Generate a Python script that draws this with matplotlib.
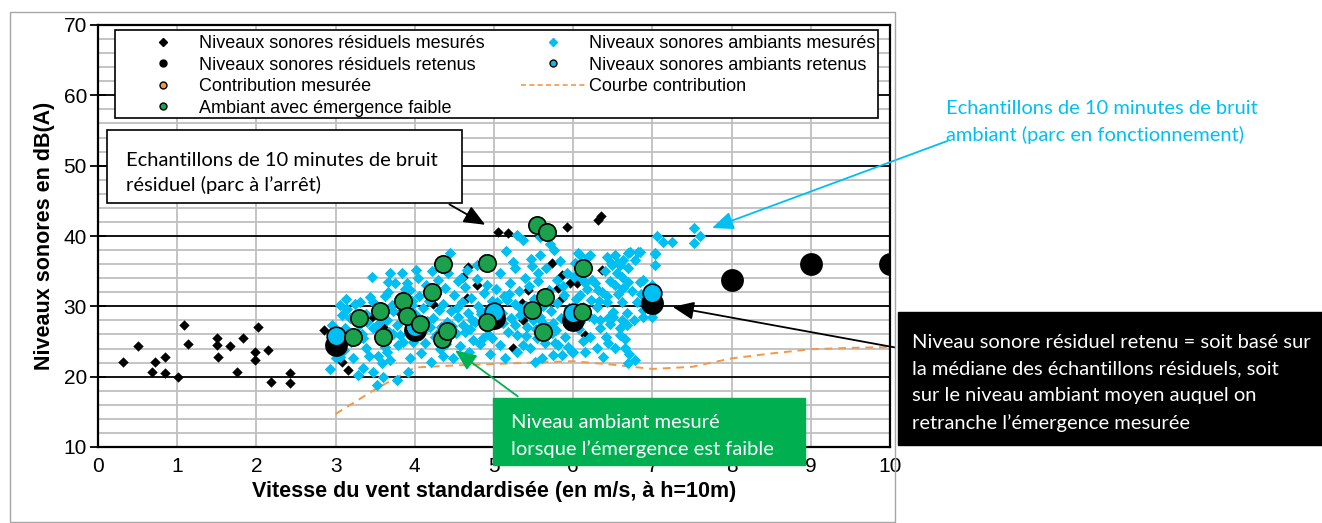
import matplotlib.pyplot as plt
from matplotlib.lines import Line2D
from matplotlib.patches import Rectangle

plt.rcParams['font.family'] = ['Liberation Sans', 'DejaVu Sans']

# niveaux residuels mesures (parc a l'arret)
res_x = [0.32, 0.51, 0.68, 0.72, 0.85, 0.85, 1.01, 1.08, 1.14, 1.50, 1.50, 1.52, 1.67, 1.75,
         1.83, 1.98, 1.98, 2.02, 2.15, 2.19, 2.42, 2.42, 2.85,
         3.08, 3.16, 3.46, 3.60, 3.81, 4.00, 4.23, 4.61, 4.66, 4.67, 4.78, 5.00, 5.05, 5.18,
         5.24, 5.35, 5.37, 5.43, 5.73, 5.81, 5.86, 5.86, 5.92, 5.96, 6.00, 6.05, 6.15, 6.31,
         6.35, 6.36, 6.98, 7.03]
res_y = [22.1, 24.3, 20.7, 22.1, 22.8, 20.5, 20.0, 27.3, 24.7, 25.5, 24.5, 22.8, 24.3, 20.7,
         25.5, 23.5, 22.4, 27.1, 23.8, 19.3, 20.5, 19.1, 26.6,
         22.1, 21.0, 28.5, 27.0, 29.0, 26.0, 30.4, 34.1, 31.2, 35.6, 33.1, 28.8, 40.6, 40.4,
         24.1, 30.5, 28.0, 32.3, 36.2, 32.6, 34.5, 31.2, 41.3, 33.3, 28.4, 33.3, 25.9, 42.3,
         42.8, 35.2, 30.2, 29.5]

# niveaux ambiants mesures (parc en fonctionnement)
amb_x = [2.93, 2.95, 2.97, 3.00, 3.03, 3.06, 3.06, 3.08, 3.10, 3.12, 3.13, 3.15,
         3.18, 3.20, 3.22, 3.25, 3.28, 3.30, 3.31, 3.33, 3.35, 3.35, 3.38, 3.39, 3.42, 3.44,
         3.46, 3.47, 3.47, 3.47, 3.50,
         3.52, 3.54, 3.55, 3.58, 3.60, 3.62, 3.63, 3.65, 3.65, 3.66, 3.66, 3.68, 3.69, 3.69,
         3.71, 3.73, 3.75, 3.77, 3.77, 3.79, 3.80,
         3.81, 3.84, 3.85, 3.87, 3.88, 3.90, 3.91, 3.92, 3.94, 3.94, 3.96, 3.98, 4.00, 4.02,
         4.04, 4.05, 4.07, 4.08, 4.10,
         4.13, 4.14, 4.16, 4.18, 4.19, 4.20, 4.22, 4.23, 4.25, 4.27, 4.29, 4.30, 4.32, 4.33,
         4.36, 4.38, 4.40, 4.41, 4.42, 4.44,
         4.46, 4.48, 4.50, 4.52, 4.54, 4.55, 4.57, 4.59, 4.61, 4.63, 4.64, 4.66, 4.67, 4.69,
         4.71, 4.72, 4.74,
         4.76, 4.78, 4.79, 4.80, 4.82, 4.84, 4.86, 4.87, 4.89, 4.91, 4.93, 4.95, 4.97, 4.98,
         5.00, 5.02,
         5.08, 5.08, 5.10, 5.12, 5.14, 5.16, 5.18, 5.20, 5.22, 5.24, 5.26, 5.27, 5.27, 5.29,
         5.29, 5.29, 5.31, 5.33,
         5.37, 5.37, 5.39, 5.40, 5.42, 5.44, 5.45, 5.47, 5.49, 5.50, 5.52, 5.54, 5.55, 5.56,
         5.58, 5.58, 5.58, 5.61, 5.62, 5.64,
         5.66, 5.68, 5.70, 5.72, 5.73, 5.74, 5.74, 5.76, 5.77, 5.79, 5.80, 5.81, 5.83, 5.85,
         5.86, 5.88, 5.90, 5.92, 5.93, 5.95,
         5.98, 6.00, 6.02, 6.04, 6.06, 6.07, 6.09, 6.09, 6.09, 6.11, 6.13, 6.15, 6.15, 6.17,
         6.19, 6.20, 6.21, 6.21, 6.23,
         6.28, 6.30, 6.30, 6.31, 6.34, 6.34, 6.36, 6.38, 6.40, 6.43, 6.43, 6.43, 6.44, 6.44,
         6.48, 6.49, 6.50, 6.50, 6.53, 6.53, 6.53, 6.55,
         6.57, 6.59, 6.59, 6.59, 6.62, 6.62, 6.63, 6.63, 6.65, 6.68, 6.68, 6.69, 6.69, 6.69,
         6.69, 6.72, 6.78, 6.78, 6.80, 6.82, 6.84, 6.84,
         6.88, 6.88, 6.88, 6.95, 7.00, 7.00, 7.03, 7.03, 7.03, 7.06, 7.05,
         7.14, 7.25, 7.52, 7.52, 7.60,
         3.10, 3.40, 3.57, 3.72, 3.97, 4.12, 4.28, 4.47, 4.53, 4.70, 4.83, 4.92, 5.04, 5.11,
         5.19, 5.34, 5.41, 5.46, 5.53, 5.60, 5.69, 5.78, 5.87, 5.94, 6.03, 6.12, 6.18, 6.26,
         6.33, 6.41, 6.47, 6.56, 6.61, 6.66, 6.74, 6.77, 6.86, 6.92, 4.35, 4.58, 4.88, 5.15,
         5.48, 5.71, 6.01, 6.24, 6.46, 6.71]
amb_y = [21.1, 27.3, 26.2, 22.6, 24.1, 22.8, 30.2, 28.8, 25.0, 26.9, 31.0, 29.6,
         28.3, 24.9, 22.6, 30.4, 20.2, 27.4, 30.6, 26.1, 21.2, 25.5, 28.9, 24.1, 23.0, 31.3,
         34.2, 20.7, 26.9, 30.6, 29.1,
         18.8, 22.9, 27.6, 21.9, 19.9, 24.2, 31.5, 23.5, 28.0, 32.0, 33.5, 26.4, 22.4, 34.7,
         30.2, 29.3, 33.3, 19.5, 27.3, 24.5, 31.2,
         25.9, 34.7, 24.9, 29.4, 32.5, 33.3, 20.6, 27.8, 22.6, 32.3, 30.2, 24.9, 28.9, 35.2,
         34.0, 31.4, 25.9, 23.4, 29.8,
         24.8, 33.1, 27.9, 30.7, 27.1, 22.1, 35.0, 28.3, 25.6, 31.8, 33.7, 29.5, 23.9, 27.0,
         30.4, 32.6, 24.6, 27.8, 34.7, 37.6,
         29.4, 22.6, 31.6, 26.2, 33.6, 28.5, 24.3, 30.6, 27.4, 26.4, 32.8, 35.1, 29.0, 23.5,
         31.2, 28.0, 25.2,
         27.8, 33.9, 35.9, 30.1, 24.6, 28.9, 25.5, 31.9, 27.2, 33.0, 29.6, 23.2, 25.5, 30.8,
         27.9, 32.4,
         24.5, 34.7, 29.0, 31.5, 22.6, 30.9, 26.4, 33.3, 28.3, 36.3, 30.3, 27.3, 35.4, 23.5,
         25.9, 40.1, 32.2, 28.8,
         24.5, 39.4, 34.0, 30.0, 27.1, 32.9, 24.1, 36.8, 28.0, 31.0, 22.1, 25.5, 33.6, 34.7,
         28.5, 37.3, 39.8, 22.6, 30.1, 24.8,
         35.5, 27.0, 32.3, 29.3, 26.2, 23.1, 27.6, 38.0, 24.8, 33.8, 30.5, 24.5, 36.4, 28.4,
         23.1, 31.6, 25.6, 34.8, 27.3, 29.7,
         23.5, 23.5, 36.1, 31.0, 37.6, 26.8, 27.8, 31.6, 37.3, 33.9, 29.9, 23.5, 33.3, 35.6,
         37.0, 28.6, 25.6, 37.3, 30.9,
         33.3, 24.1, 29.9, 32.3, 26.9, 28.0, 32.0, 22.8, 35.0, 30.6, 31.4, 37.0, 24.8, 28.3,
         36.2, 35.9, 28.5, 29.2, 24.1, 33.0, 37.3, 34.7,
         36.2, 25.9, 26.9, 35.9, 30.6, 34.2, 32.6, 36.6, 24.1, 27.3, 29.0, 21.9, 33.5, 35.4,
         37.6, 37.7, 22.4, 36.6, 30.6, 37.7, 33.5, 37.7,
         28.5, 29.5, 33.7, 31.2, 28.5, 33.0, 35.9, 37.5, 37.6, 40.0, 29.6,
         39.2, 39.2, 41.1, 39.0, 40.0,
         23.8, 27.8, 25.0, 26.0, 30.8, 26.6, 26.1, 27.2, 29.8, 26.8, 29.3, 26.0, 30.6, 27.6,
         31.8, 29.6, 25.8, 29.0, 26.8, 27.8, 30.8, 26.6, 32.9, 24.2, 28.6, 25.0, 32.4, 28.2,
         30.7, 25.6, 27.5, 31.8, 28.1, 25.3, 32.2, 28.0, 31.8, 30.3, 23.0, 34.0, 36.8, 37.8,
         35.8, 38.8, 34.2, 33.8, 33.6, 23.2]

# ambiant avec emergence faible
faible_x = [3.22, 3.30, 3.56, 3.60, 3.85, 3.90, 4.07, 4.22, 4.34, 4.36, 4.41, 4.91, 4.91,
            5.48, 5.54, 5.62, 5.64, 5.67, 6.11, 6.12]
faible_y = [25.6, 28.3, 29.3, 25.6, 30.8, 28.6, 27.5, 32.0, 25.4, 36.0, 26.5, 36.2, 27.8,
            29.5, 41.6, 26.3, 31.3, 40.6, 29.2, 35.4]

# niveaux retenus par classe de vitesse
ret_res_x = [3, 4, 5, 6, 7, 8, 9, 10]
ret_res_y = [24.5, 26.6, 28.4, 28.0, 30.5, 33.8, 36.0, 36.0]
ret_amb_x = [3, 4, 5, 6, 7]
ret_amb_y = [25.8, 27.1, 29.2, 29.0, 31.9]

# courbe de contribution
contrib_x = [3, 3.5, 4, 4.5, 5, 5.5, 6, 6.5, 7, 7.5, 8, 8.5, 9, 9.5, 10]
contrib_y = [14.7, 18.2, 21.3, 21.6, 21.8, 22.0, 22.2, 21.7, 21.1, 21.4, 22.6, 23.3, 23.9, 24.1, 24.2]

CYAN = '#00BFF3'
GREEN = '#1BA04B'
ORANGE = '#F79646'
BOXGREEN = '#00B050'

W, H = 1322, 523
fig = plt.figure(figsize=(W / 100, H / 100), dpi=100)
ax = fig.add_axes([98 / W, 1 - 447 / H, (890 - 98) / W, (447 - 25) / H])


def px(x, y):
    return (x / W, 1 - y / H)


# grille
for v in range(12, 70, 2):
    if v % 10:
        ax.axhline(v, color='#BFBFBF', lw=1.3, zorder=0)
for v in range(20, 70, 10):
    ax.axhline(v, color='black', lw=1.3, zorder=0.5)
for v in range(1, 10):
    ax.axvline(v, color='#BFBFBF', lw=1.3, zorder=0.2)

ax.plot(contrib_x, contrib_y, ls=(0, (4, 3)), color=ORANGE, lw=1.4, zorder=2)
ax.scatter(res_x, res_y, marker='D', s=28, color='black', lw=0, zorder=3)
ax.scatter(amb_x, amb_y, marker='D', s=34, color=CYAN, lw=0, zorder=3)
ax.scatter(ret_res_x, ret_res_y, marker='o', s=270, color='black', lw=0, zorder=4)
ax.scatter(ret_amb_x, ret_amb_y, marker='o', s=180, color=CYAN, edgecolor='black', lw=1.2, zorder=5)
ax.scatter(faible_x, faible_y, marker='o', s=155, color=GREEN, edgecolor='black', lw=1.2, zorder=6)

ax.set_xlim(0, 10)
ax.set_ylim(10, 70)
ax.set_xticks(range(0, 11))
ax.set_yticks(range(10, 80, 10))
ax.tick_params(axis='y', direction='inout', length=12, width=1.3, labelsize=15, pad=2)
ax.tick_params(axis='x', length=0, labelsize=15, pad=7)
for s in ax.spines.values():
    s.set_linewidth(1.6)
ax.set_xlabel('Vitesse du vent standardisée (en m/s, à h=10m)', fontsize=15.5,
              fontweight='bold', labelpad=4)
ax.set_ylabel('Niveaux sonores en dB(A)', fontsize=15.5, fontweight='bold', labelpad=6)

# legende : cadre dessine a part, entrees sans cadre
ax.add_patch(Rectangle(px(115, 118), 763 / W, 88 / H, transform=fig.transFigure,
                       facecolor='white', edgecolor='black', lw=1.2, zorder=9))
handles = [
    Line2D([], [], ls='', marker='D', ms=4, color='black'),
    Line2D([], [], ls='', marker='o', ms=5, color='black'),
    Line2D([], [], ls='', marker='o', ms=5, color=ORANGE, mec='black'),
    Line2D([], [], ls='', marker='o', ms=5, color=GREEN, mec='black'),
    Line2D([], [], ls='', marker='D', ms=4, color=CYAN),
    Line2D([], [], ls='', marker='o', ms=5, color=CYAN, mec='black'),
    Line2D([], [], ls=(0, (3, 2)), lw=1.2, color=ORANGE),
]
labels = ['Niveaux sonores résiduels mesurés', 'Niveaux sonores résiduels retenus',
          'Contribution mesurée', 'Ambiant avec émergence faible',
          'Niveaux sonores ambiants mesurés', 'Niveaux sonores ambiants retenus',
          'Courbe contribution']
leg = ax.legend(handles, labels, ncol=2, loc='upper left', bbox_to_anchor=px(131, 35),
                bbox_transform=fig.transFigure, fontsize=13, frameon=False,
                borderpad=0, labelspacing=0.25, handlelength=3.55, columnspacing=2.05,
                handletextpad=0.2, borderaxespad=0)
leg.set_zorder(10)

# cadre exterieur
fig.patches.append(Rectangle(px(10, 522), 885 / W, 510 / H, transform=fig.transFigure,
                             fill=False, edgecolor='#A6A6A6', lw=1))

afont = ['Lato', 'DejaVu Sans']
FS = 14.5

# boite residuel
fig.patches.append(Rectangle(px(107, 203), 355 / W, 73 / H, transform=fig.transFigure,
                             facecolor='white', edgecolor='black', lw=1.2, zorder=3))
fig.text(*px(126, 173), 'Echantillons de 10 minutes de bruit\nrésiduel (parc à l’arrêt)',
         family=afont, fontsize=FS, va='center', ha='left', linespacing=1.5, zorder=4)
arrow = '-|>,head_length=1.3,head_width=0.55'
ax.annotate('', xy=(4.92, 41.4), xytext=px(447, 203), textcoords='figure fraction',
            arrowprops=dict(arrowstyle=arrow, color='black', lw=1.3), zorder=12)

# texte ambiant
fig.text(*px(946, 122), 'Echantillons de 10 minutes de bruit\nambiant (parc en fonctionnement)',
         family=afont, fontsize=FS, color=CYAN, va='center', ha='left', linespacing=1.62)
ax.annotate('', xy=(7.72, 41.0), xytext=px(950, 140), textcoords='figure fraction',
            arrowprops=dict(arrowstyle=arrow, color=CYAN, lw=1.3), zorder=12)

# boite residuel retenu
fig.patches.append(Rectangle(px(898, 445), 424 / W, 133 / H, transform=fig.transFigure,
                             facecolor='black', edgecolor='black', lw=1, zorder=3))
fig.text(*px(912, 383), 'Niveau sonore résiduel retenu = soit basé sur\nla médiane des échantillons '
         'résiduels, soit\nsur le niveau ambiant moyen auquel on\nretranche l’émergence mesurée',
         family=afont, fontsize=FS, color='white', va='center', ha='left', linespacing=1.68,
         zorder=4)
ax.annotate('', xy=(7.22, 30.0), xytext=px(898, 348), textcoords='figure fraction',
            arrowprops=dict(arrowstyle=arrow, color='black', lw=1.3), zorder=12)

# boite emergence faible
fig.patches.append(Rectangle(px(493, 465), 312 / W, 67 / H, transform=fig.transFigure,
                             facecolor=BOXGREEN, edgecolor=BOXGREEN, lw=1, zorder=3))
fig.text(*px(511, 436), 'Niveau ambiant mesuré\nlorsque l’émergence est faible',
         family=afont, fontsize=FS, color='white', va='center', ha='left', linespacing=1.62,
         zorder=4)
ax.annotate('', xy=(4.48, 24.0), xytext=px(520, 398), textcoords='figure fraction',
            arrowprops=dict(arrowstyle=arrow, color=BOXGREEN, lw=1.3), zorder=12)

fig.savefig('out.png', dpi=100)
